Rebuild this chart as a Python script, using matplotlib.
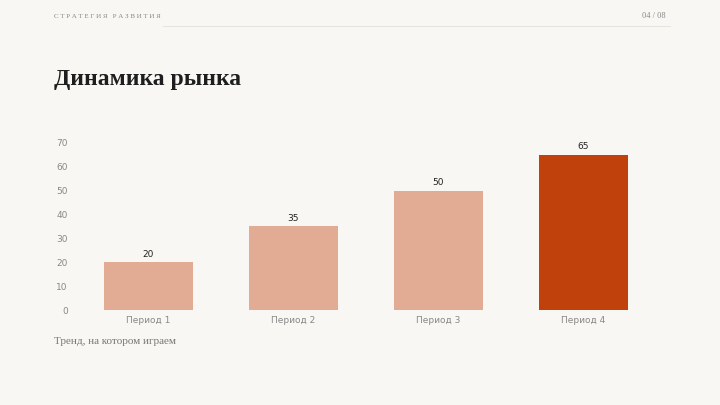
import matplotlib
matplotlib.use("Agg")
import matplotlib.pyplot as plt

categories = ["Период 1", "Период 2", "Период 3", "Период 4"]
values = [20, 35, 50, 65]
colors = ["#e2ab93", "#e2ab93", "#e2ab93", "#c0410c"]
yticks = [0, 10, 20, 30, 40, 50, 60, 70]

bg = "#f9f7f3"
fig = plt.figure(figsize=(7.2, 4.05), dpi=100, facecolor=bg)
ax = fig.add_axes([76/720, 1-310/405, (656-76)/720, (310-143)/405], facecolor=bg)
x = range(len(categories))
bars = ax.bar(x, values, width=0.62, color=colors)
for xi, v in zip(x, values):
    ax.text(xi, v + 1.5, str(v), ha="center", va="bottom", fontsize=6.5, color="#222222")
ax.set_xlim(-0.5, len(categories) - 0.5)
ax.set_ylim(0, 70)
ax.set_yticks(yticks)
ax.set_xticks(list(x))
ax.set_xticklabels(categories)
ax.tick_params(length=0, labelsize=6.5, colors="#888888", pad=6)
ax.tick_params(axis="x", pad=4)
for s in ax.spines.values():
    s.set_visible(False)

serif = ["Liberation Serif", "DejaVu Serif"]
fig.text(54/720, 1-16/405, "С Т Р А Т Е Г И Я   Р А З В И Т И Я", family=serif, fontsize=5, color="#888888", va="center")
fig.text(666/720, 1-16/405, "04 / 08", family=serif, fontsize=6, color="#888888", va="center", ha="right")
fig.add_artist(plt.Line2D([163/720, 670/720], [1-26/405]*2, color="#e8e5df", lw=0.8))
fig.text(54/720, 1-80/405, "Динамика рынка", family=serif, fontsize=17, weight="bold", color="#1e1e1e", va="center")
fig.text(54/720, 1-341/405, "Тренд, на котором играем", family=serif, fontsize=8, color="#777777", va="center")
fig.savefig("out.png", dpi=100, facecolor=bg)
